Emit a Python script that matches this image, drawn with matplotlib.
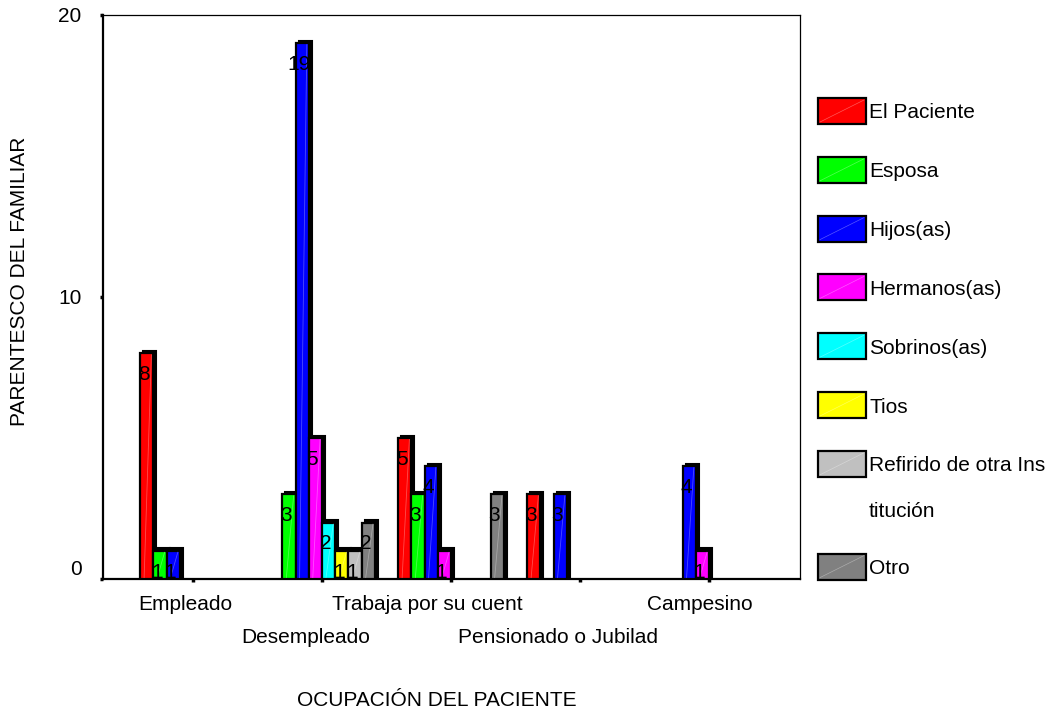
import numpy as np
import matplotlib.pyplot as plt
from matplotlib.patches import Rectangle
from matplotlib.lines import Line2D
from matplotlib import transforms

plt.rcParams['font.family'] = ['Liberation Sans', 'DejaVu Sans']

# Occupation categories and relative counts per category
categories = ['Empleado', 'Desempleado', 'Trabaja por su cuent',
              'Pensionado o Jubilad', 'Campesino']
series = ['El Paciente', 'Esposa', 'Hijos(as)', 'Hermanos(as)', 'Sobrinos(as)',
          'Tios', 'Refirido de otra Ins\ntitución', 'Otro']
el_paciente = [8, 0, 5, 3, 0]
esposa = [1, 3, 3, 0, 0]
hijos = [1, 19, 4, 3, 4]
hermanos = [0, 5, 1, 0, 1]
sobrinos = [0, 2, 0, 0, 0]
tios = [0, 1, 0, 0, 0]
refirido = [0, 1, 0, 0, 0]
otro = [0, 2, 3, 0, 0]
values = [el_paciente, esposa, hijos, hermanos, sobrinos, tios, refirido, otro]
colors = ['#ff0000', '#00ff00', '#0000ff', '#ff00ff', '#00ffff',
          '#ffff00', '#c0c0c0', '#808080']
yticks = [0, 10, 20]

W, H = 1056, 710
fig = plt.figure(figsize=(W / 100, H / 100), dpi=100)
ax = fig.add_axes([103 / W, 1 - 579 / H, 697 / W, 564 / H])

bw = 0.1025
x = np.arange(len(categories))
depth = transforms.ScaledTranslation(3 / 100, 2.5 / 100, fig.dpi_scale_trans)

for k, (vals, col) in enumerate(zip(values, colors)):
    vals = np.array(vals, dtype=float)
    keep = vals > 0
    xs = x[keep] + (k - 3.5) * bw
    vs = vals[keep]
    # black depth face behind each bar
    sh = ax.bar(xs, vs, width=bw, color='black', edgecolor='black', lw=1.5, zorder=2)
    for p in sh:
        p.set_transform(ax.transData + depth)
    ax.bar(xs, vs, width=bw, color=col, edgecolor='black', lw=1.6, zorder=3)
    for xi, v in zip(xs, vs):
        # faint highlight stroke across the front face
        ax.plot([xi - bw * 0.2, xi + bw * 0.35], [0.05, v - 0.05], color='white',
                lw=0.6, alpha=0.3, zorder=4)
        ax.annotate(f'{int(v)}', xy=(xi, v), xytext=(-2.2, -8.5),
                    textcoords='offset points', ha='center', va='top',
                    fontsize=15, color='black', zorder=5)

ax.set_xlim(-0.698, 4.705)
ax.set_ylim(0, 20)
ax.set_yticks(yticks)
ax.set_yticklabels([str(t) for t in yticks], fontsize=15)
ax.get_yticklabels()[0].set_va('bottom')
ax.tick_params(axis='y', length=2.5, width=2.5, pad=13)
ax.set_xticks(x)
ax.set_xticklabels([])
ax.tick_params(axis='x', length=2.5, width=2.5)

for side in ['left', 'bottom']:
    ax.spines[side].set_linewidth(1.6)
for side in ['top', 'right']:
    ax.spines[side].set_linewidth(0.9)

# staggered category labels
shifts = [-8, -16, -24, -22, -9]
for i, (lab, s) in enumerate(zip(categories, shifts)):
    row = i % 2
    ax.annotate(lab, xy=(i, 0), xycoords=ax.get_xaxis_transform(),
                xytext=(s * 0.72, -(31 if row == 0 else 64) * 0.72),
                textcoords='offset points', ha='center', va='baseline', fontsize=15)

fig.text(437 / W, 1 - 706 / H, 'OCUPACIÓN DEL PACIENTE', ha='center',
         va='baseline', fontsize=15)
fig.text(20 / W, 1 - 281 / H, 'PARENTESCO DEL FAMILIAR', rotation=90,
         ha='center', va='center', fontsize=15)

# legend drawn by hand to the right of the plot
yc = 111
for lab, col in zip(series, colors):
    lines = lab.split('\n')
    fig.add_artist(Rectangle((818 / W, 1 - (yc + 13) / H), 48 / W, 26 / H,
                             transform=fig.transFigure, facecolor=col,
                             edgecolor='black', lw=1.6))
    fig.add_artist(Line2D([820 / W, 864 / W], [1 - (yc + 11) / H, 1 - (yc - 11) / H],
                          transform=fig.transFigure, color='white', lw=0.5, alpha=0.35))
    for j, ln in enumerate(lines):
        fig.text(869 / W, 1 - (yc + 7.5 + 46 * j) / H, ln, ha='left',
                 va='baseline', fontsize=15)
    yc += 58.8 + 44 * (len(lines) - 1)

fig.savefig('out.png', dpi=100)
